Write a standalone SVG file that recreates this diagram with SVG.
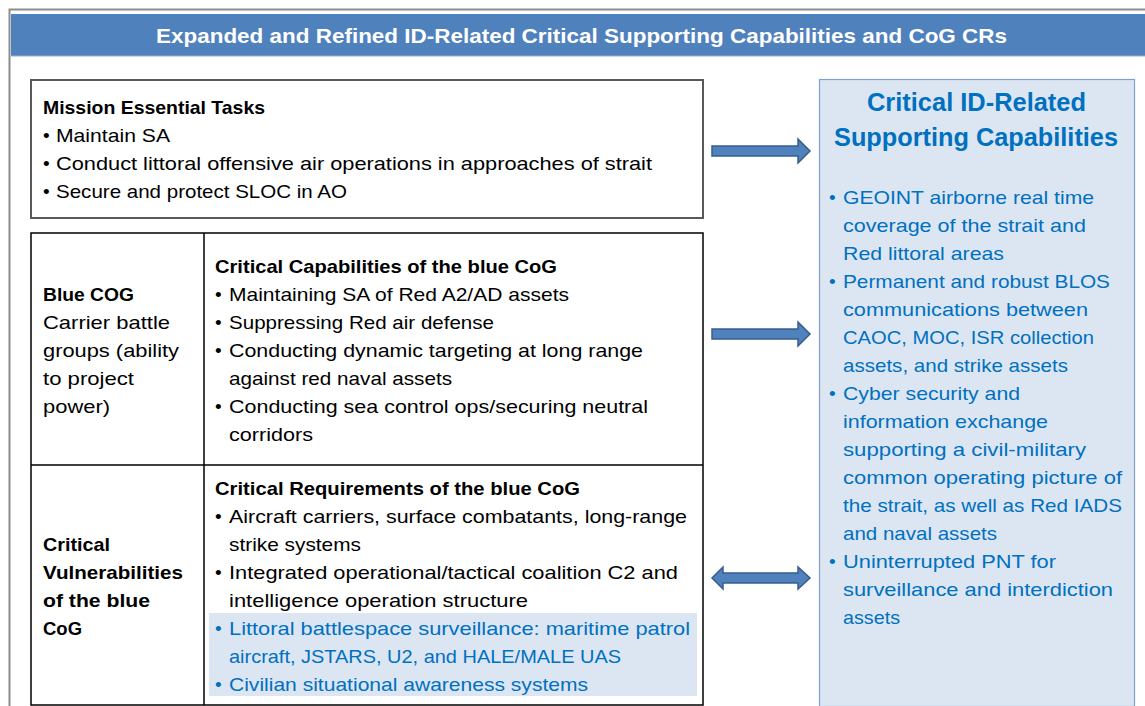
<svg xmlns="http://www.w3.org/2000/svg" width="1145" height="706" viewBox="0 0 1145 706">
<style>
text{font-family:"Liberation Sans",Arial,sans-serif;font-size:19px;fill:#000}
.b{font-weight:bold}
.t{fill:#fff;font-weight:bold;font-size:21px}
.blue{fill:#0070C0}
.h{font-size:25px;font-weight:bold;fill:#0070C0}
.arrow{fill:#4F81BD;stroke:#385D8A;stroke-width:1.5}
</style>
<rect x="0" y="0" width="1145" height="706" fill="#fff"/>
<g id="frame">
<path d="M9.5 706 V9.5 H1145" fill="none" stroke="#8C8C8C" stroke-width="2"/>
</g>
<g id="title">
<rect x="11" y="14" width="1134" height="42" fill="#4F81BD"/>
<line x1="11" y1="56" x2="1145" y2="56" stroke="#8FB0D8" stroke-width="1"/>
<text class="t" x="156" y="43" textLength="851" lengthAdjust="spacingAndGlyphs">Expanded and Refined ID-Related Critical Supporting Capabilities and CoG CRs</text>
</g>
<g id="met">
<rect x="31" y="80" width="672" height="138" fill="#fff" stroke="#595959" stroke-width="2"/>
<text class="b" x="43" y="114" textLength="222" lengthAdjust="spacingAndGlyphs">Mission Essential Tasks</text>
<text x="43" y="142">•</text><text x="56" y="142" textLength="114" lengthAdjust="spacingAndGlyphs">Maintain SA</text>
<text x="43" y="170">•</text><text x="56" y="170" textLength="596" lengthAdjust="spacingAndGlyphs">Conduct littoral offensive air operations in approaches of strait</text>
<text x="43" y="198">•</text><text x="56" y="198" textLength="291" lengthAdjust="spacingAndGlyphs">Secure and protect SLOC in AO</text>
</g>
<g id="table">
<rect x="31" y="233" width="672" height="472" fill="#fff" stroke="#000" stroke-width="1.5"/>
<line x1="204" y1="233" x2="204" y2="705" stroke="#000" stroke-width="1.5"/>
<line x1="31" y1="465" x2="703" y2="465" stroke="#000" stroke-width="1.5"/>
<rect x="209" y="613" width="488" height="83" fill="#DCE6F2"/>
</g>
<g id="blue-cog">
<text class="b" x="43" y="301" textLength="91" lengthAdjust="spacingAndGlyphs">Blue COG</text>
<text x="43" y="329" textLength="127" lengthAdjust="spacingAndGlyphs">Carrier battle</text>
<text x="43" y="357" textLength="136" lengthAdjust="spacingAndGlyphs">groups (ability</text>
<text x="43" y="385" textLength="91" lengthAdjust="spacingAndGlyphs">to project</text>
<text x="43" y="413" textLength="67" lengthAdjust="spacingAndGlyphs">power)</text>
</g>
<g id="critical-capabilities">
<text class="b" x="215" y="273" textLength="342" lengthAdjust="spacingAndGlyphs">Critical Capabilities of the blue CoG</text>
<text x="215" y="301">•</text><text x="229" y="301" textLength="340" lengthAdjust="spacingAndGlyphs">Maintaining SA of Red A2/AD assets</text>
<text x="215" y="329">•</text><text x="229" y="329" textLength="265" lengthAdjust="spacingAndGlyphs">Suppressing Red air defense</text>
<text x="215" y="357">•</text><text x="229" y="357" textLength="414" lengthAdjust="spacingAndGlyphs">Conducting dynamic targeting at long range</text>
<text x="229" y="385" textLength="223" lengthAdjust="spacingAndGlyphs">against red naval assets</text>
<text x="215" y="413">•</text><text x="229" y="413" textLength="419" lengthAdjust="spacingAndGlyphs">Conducting sea control ops/securing neutral</text>
<text x="229" y="441" textLength="84" lengthAdjust="spacingAndGlyphs">corridors</text>
</g>
<g id="critical-vulnerabilities">
<text class="b" x="43" y="551" textLength="67" lengthAdjust="spacingAndGlyphs">Critical</text>
<text class="b" x="43" y="579" textLength="140" lengthAdjust="spacingAndGlyphs">Vulnerabilities</text>
<text class="b" x="43" y="607" textLength="107" lengthAdjust="spacingAndGlyphs">of the blue</text>
<text class="b" x="43" y="635" textLength="39" lengthAdjust="spacingAndGlyphs">CoG</text>
</g>
<g id="critical-requirements">
<text class="b" x="215" y="495" textLength="365" lengthAdjust="spacingAndGlyphs">Critical Requirements of the blue CoG</text>
<text x="215" y="523">•</text><text x="229" y="523" textLength="458" lengthAdjust="spacingAndGlyphs">Aircraft carriers, surface combatants, long-range</text>
<text x="229" y="551" textLength="132" lengthAdjust="spacingAndGlyphs">strike systems</text>
<text x="215" y="579">•</text><text x="229" y="579" textLength="449" lengthAdjust="spacingAndGlyphs">Integrated operational/tactical coalition C2 and</text>
<text x="229" y="607" textLength="299" lengthAdjust="spacingAndGlyphs">intelligence operation structure</text>
<text class="blue" x="215" y="635">•</text><text class="blue" x="229" y="635" textLength="461" lengthAdjust="spacingAndGlyphs">Littoral battlespace surveillance: maritime patrol</text>
<text class="blue" x="229" y="663" textLength="392" lengthAdjust="spacingAndGlyphs">aircraft, JSTARS, U2, and HALE/MALE UAS</text>
<text class="blue" x="215" y="691">•</text><text class="blue" x="229" y="691" textLength="359" lengthAdjust="spacingAndGlyphs">Civilian situational awareness systems</text>
</g>
<g id="supporting-capabilities">
<rect x="819.5" y="79.5" width="315" height="627" fill="#DCE6F2" stroke="#7EA1CF" stroke-width="1.2"/>
<text class="h" x="867" y="111" textLength="219" lengthAdjust="spacingAndGlyphs">Critical ID-Related</text>
<text class="h" x="834" y="146" textLength="284" lengthAdjust="spacingAndGlyphs">Supporting Capabilities</text>
<text class="blue" x="829" y="204">•</text><text class="blue" x="843" y="204" textLength="251" lengthAdjust="spacingAndGlyphs">GEOINT airborne real time</text>
<text class="blue" x="843" y="232" textLength="243" lengthAdjust="spacingAndGlyphs">coverage of the strait and</text>
<text class="blue" x="843" y="260" textLength="161" lengthAdjust="spacingAndGlyphs">Red littoral areas</text>
<text class="blue" x="829" y="288">•</text><text class="blue" x="843" y="288" textLength="267" lengthAdjust="spacingAndGlyphs">Permanent and robust BLOS</text>
<text class="blue" x="843" y="316" textLength="245" lengthAdjust="spacingAndGlyphs">communications between</text>
<text class="blue" x="843" y="344" textLength="251" lengthAdjust="spacingAndGlyphs">CAOC, MOC, ISR collection</text>
<text class="blue" x="843" y="372" textLength="225" lengthAdjust="spacingAndGlyphs">assets, and strike assets</text>
<text class="blue" x="829" y="400">•</text><text class="blue" x="843" y="400" textLength="177" lengthAdjust="spacingAndGlyphs">Cyber security and</text>
<text class="blue" x="843" y="428" textLength="205" lengthAdjust="spacingAndGlyphs">information exchange</text>
<text class="blue" x="843" y="456" textLength="243" lengthAdjust="spacingAndGlyphs">supporting a civil-military</text>
<text class="blue" x="843" y="484" textLength="279" lengthAdjust="spacingAndGlyphs">common operating picture of</text>
<text class="blue" x="843" y="512" textLength="279" lengthAdjust="spacingAndGlyphs">the strait, as well as Red IADS</text>
<text class="blue" x="843" y="540" textLength="154" lengthAdjust="spacingAndGlyphs">and naval assets</text>
<text class="blue" x="829" y="568">•</text><text class="blue" x="843" y="568" textLength="213" lengthAdjust="spacingAndGlyphs">Uninterrupted PNT for</text>
<text class="blue" x="843" y="596" textLength="270" lengthAdjust="spacingAndGlyphs">surveillance and interdiction</text>
<text class="blue" x="843" y="624" textLength="57" lengthAdjust="spacingAndGlyphs">assets</text>
</g>
<g id="connectors">
<path class="arrow" d="M712 146 H798 V139 L810 151 L798 163 V156 H712 Z"/>
<path class="arrow" d="M712 329 H798 V322 L810 334 L798 346 V339 H712 Z"/>
<path class="arrow" d="M712 578 L723 567 V573 H798 V567 L810 578 L798 589 V583 H723 V589 Z"/>
</g>
</svg>
